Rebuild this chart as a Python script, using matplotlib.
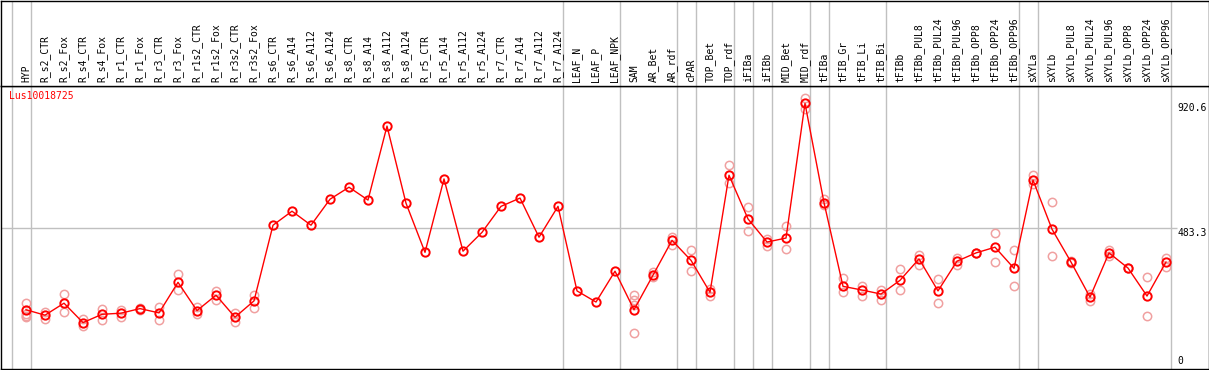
import numpy as np
import matplotlib
matplotlib.use("Agg")
import matplotlib.pyplot as plt

labels = ["HYP", "R_s2_CTR", "R_s2_Fox", "R_s4_CTR", "R_s4_Fox", "R_r1_CTR", "R_r1_Fox",
          "R_r3_CTR", "R_r3_Fox", "R_r1s2_CTR", "R_r1s2_Fox", "R_r3s2_CTR", "R_r3s2_Fox",
          "R_s6_CTR", "R_s6_A14", "R_s6_A112", "R_s6_A124", "R_s8_CTR", "R_s8_A14",
          "R_s8_A112", "R_s8_A124", "R_r5_CTR", "R_r5_A14", "R_r5_A112", "R_r5_A124",
          "R_r7_CTR", "R_r7_A14", "R_r7_A112", "R_r7_A124", "LEAF_N", "LEAF_P", "LEAF_NPK",
          "SAM", "AR_Bet", "AR_rdf", "cPAR", "TOP_Bet", "TOP_rdf", "iFIBa", "iFIBb",
          "MID_Bet", "MID_rdf", "tFIBa", "tFIB_Gr", "tFIB_Li", "tFIB_Bi", "tFIBb",
          "tFIBb_PUL8", "tFIBb_PUL24", "tFIBb_PUL96", "tFIBb_OPP8", "tFIBb_OPP24",
          "tFIBb_OPP96", "sXYLa", "sXYLb", "sXYLb_PUL8", "sXYLb_PUL24", "sXYLb_PUL96",
          "sXYLb_OPP8", "sXYLb_OPP24", "sXYLb_OPP96"]

means = [198, 179, 221, 153, 182, 186, 202, 187, 294, 195, 249, 172, 229,
         494, 543, 494, 585, 627, 582, 841, 571, 399, 656, 403, 469,
         560, 589, 452, 560, 264, 225, 333,
         198, 319, 441, 371, 259, 669, 516, 435,
         449, 920.6, 573, 280, 267, 253, 301,
         376, 264, 368, 397, 417, 343,
         652, 480, 365, 242, 397, 344, 246, 365]

reps = [[221, 183, 172, 176], [190, 167], [253, 189], [165, 141], [201, 161], [197, 172],
        [205, 198], [208, 161], [323, 266], [207, 183], [263, 232], [188, 154], [250, 205],
        [], [], [], [], [], [], [], [], [], [], [], [],
        [], [], [], [], [], [], [],
        [249, 231, 214, 116], [330, 312], [454, 426], [406, 333], [270, 247], [705, 641],
        [558, 473], [445, 422], [491, 410], [938, 900], [587, 565], [310, 261], [282, 247],
        [266, 232], [340, 266], [391, 356], [305, 221], [380, 355], [397, 397], [466, 364],
        [406, 280], [669, 638], [574, 386], [369, 361], [253, 230], [406, 387], [344, 344],
        [312, 175], [378, 349]]

group_ends = [-1, 0, 28, 31, 34, 35, 37, 38, 39, 41, 42, 45, 52, 53, 60]
gene = "Lus10018725"
ref_value = 483.3
max_value = 920.6

W, H = 1209, 370
fig = plt.figure(figsize=(W / 100, H / 100), dpi=100)
x0, x1 = 0.5, 1208.5
top_b = 85.5
bot = 368.5
ax = fig.add_axes([x0 / W, (H - bot) / H, (x1 - x0) / W, (bot - top_b) / H])
axl = fig.add_axes([x0 / W, (H - top_b) / H, (x1 - x0) / W, (top_b - 0.5) / H], sharex=ax)

# pixel -> data mapping
col0, step = 26.0, 19.0
zero_py, scale = 366.3, 0.28562
ax.set_xlim((x0 - col0) / step, (x1 - col0) / step)
ax.set_ylim((zero_py - bot) / scale, (zero_py - top_b) / scale)
axl.set_ylim(0, 1)

grid_c = "#c0c0c0"
for b in group_ends:
    ax.axvline(b + 0.25, color=grid_c, lw=1, zorder=1)
    axl.axvline(b + 0.25, color=grid_c, lw=1, zorder=1)
x_lab = (1177 - col0) / step
ax.hlines(ref_value, ax.get_xlim()[0], x_lab, color=grid_c, lw=1, zorder=1)

x = np.arange(len(labels))
for i, r in enumerate(reps):
    if r:
        ax.plot([i] * len(r), r, "o", ms=6, mfc="none", mec="#f0a0a0", mew=1.1, zorder=2)
ax.plot(x, means, "-", color="red", lw=1, zorder=3)
ax.plot(x, means, "o", ms=6, mfc="none", mec="red", mew=1.4, zorder=4)

fnt = dict(family="DejaVu Sans Mono", fontsize=7)
for i, lab in enumerate(labels):
    axl.text(i, 3.5 / (top_b - 0.5), lab, rotation=90, ha="center", va="bottom", **fnt)

ax.text(8.5 / (x1 - x0), 1 - 5 / (bot - top_b), gene, transform=ax.transAxes,
        color="red", ha="left", va="top", **fnt)
ax.text(x_lab, max_value, f"{max_value}", ha="left", va="top", **fnt)
ax.text(x_lab, ref_value, f"{ref_value}", ha="left", va="top", **fnt)
ax.text(x_lab, 0, "0", ha="left", va="bottom", **fnt)

for a in (ax, axl):
    a.set_xticks([])
    a.set_yticks([])
    for s in a.spines.values():
        s.set_color("black")
        s.set_linewidth(1.0)

fig.savefig("out.png", dpi=100)
